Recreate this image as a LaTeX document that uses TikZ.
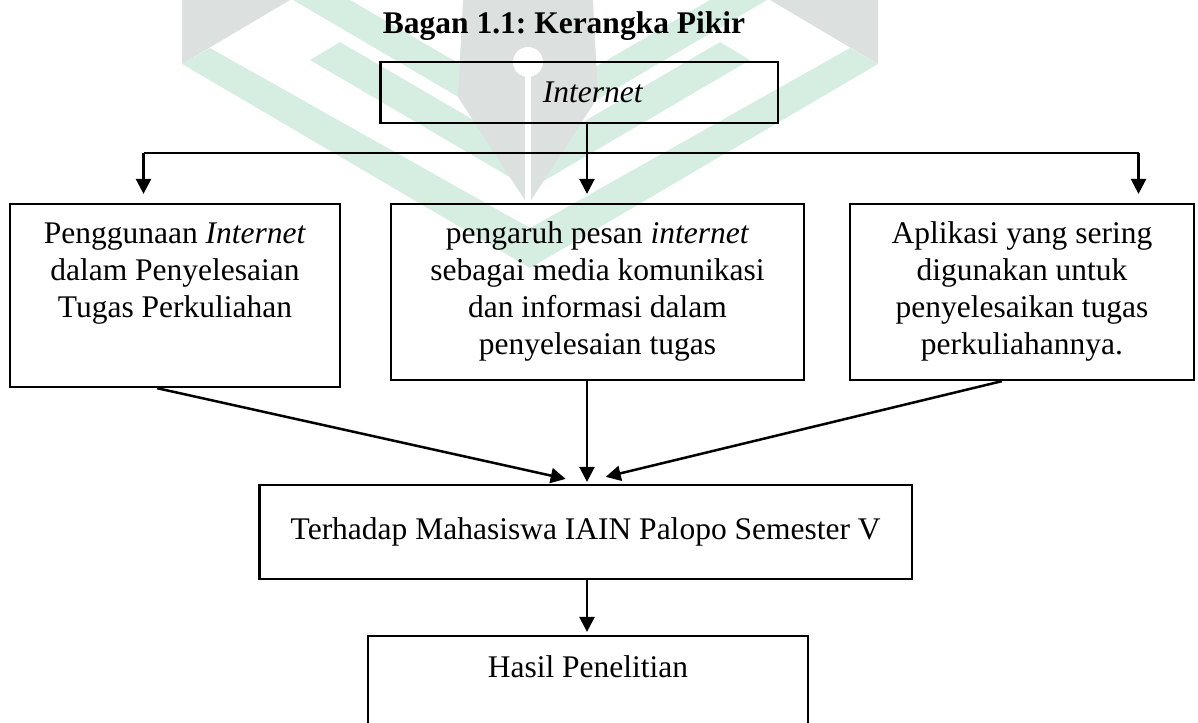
\documentclass[tikz,border=0pt]{standalone}
\usepackage{fontspec}
\setmainfont{Liberation Serif}
\usepackage{xcolor}
\usetikzlibrary{positioning,arrows.meta,calc}

\definecolor{wmgray}{RGB}{220,225,223}
\definecolor{wmgreen}{RGB}{214,238,225}

\begin{document}
\begin{tikzpicture}[x=0.4pt, y=-0.4pt, >={Triangle[length=6pt,width=6pt]},
    font=\fontsize{12.6}{14.8}\selectfont,
    box/.style={draw, line width=0.9pt, inner sep=0pt, align=center},
    link/.style={->, line width=1pt}]

\useasboundingbox (0,0) rectangle (1198,722);
\clip (0,0) rectangle (1198,722);

% ===========================
% Watermark (logo)
% ===========================
\begin{scope}
    \clip (182,0) rectangle (878,300);

    % gray corners
    \fill[wmgray] (182,0) -- (290,0) -- (182,64) -- cycle;
    \fill[wmgray] (770,0) -- (878,0) -- (878,64) -- cycle;

    % outer green V
    \fill[wmgreen] (182,64) -- (210,48) -- (530,228) -- (850,48) -- (878,64) -- (530,268) -- cycle;

    % inner green V from the top
    \fill[wmgreen] (293,0) -- (350,0) -- (530,105) -- (710,0) -- (767,0) -- (530,139) -- cycle;

    % small green chevron
    \fill[wmgreen] (310,60) -- (530,189) -- (750,60) -- (720,42) -- (530,153) -- (340,42) -- cycle;

    % pen nib
    \fill[wmgray] (463,0) -- (593,0) -- (598,97) -- (528,205) -- (458,97) -- cycle;
    \fill[white] (528,62) circle (6pt);
    \draw[white, line width=2.4pt] (528,62) -- (528,205);
\end{scope}

% ===========================
% Title and source
% ===========================
\node (judul) at (564,26) {\bfseries Bagan 1.1:\ Kerangka Pikir};

\node[box, minimum width=159pt, minimum height=24.4pt] (inet) at (579.3,92.5)
    {\hspace*{11pt}\textit{Internet}};

% ===========================
% Middle row
% ===========================
\node[box] (guna) at (175,295.5)
    {\parbox[c][73.2pt][t]{132.2pt}{\centering\rule{0pt}{15.8pt}Penggunaan \textit{Internet}\\
     dalam Penyelesaian\\ Tugas Perkuliahan}};

\node[box] (pesan) at (597.5,292)
    {\parbox[c][70.4pt][t]{165.2pt}{\centering\rule{0pt}{15.8pt}pengaruh pesan \textit{internet}\\
     sebagai media komunikasi\\ dan informasi dalam\\ penyelesaian tugas}};

\node[box] (apli) at (1022,292)
    {\parbox[c][70.4pt][t]{137.6pt}{\centering\rule{0pt}{15.8pt}Aplikasi yang sering\\
     digunakan untuk\\ penyelesaikan tugas\\ perkuliahannya.}};

% ===========================
% Bottom
% ===========================
\node[box, minimum width=261pt, minimum height=37.6pt] (hadap) at (585.7,532)
    {Terhadap Mahasiswa IAIN Palopo Semester V};

\node[box] (hasil) at (588,718)
    {\parbox[c][65.6pt][t]{176pt}{\centering\rule{0pt}{16.4pt}Hasil Penelitian}};

% ===========================
% Connectors
% ===========================
\coordinate (bar)  at (587,152.7);
\coordinate (barL) at (143.5,152.7);
\coordinate (barR) at (1138.5,152.7);

\draw[line width=0.9pt] (barL) -- (barR);
\draw[link, shorten >=3.6pt] (bar |- inet.south) -- (bar |- pesan.north);
\draw[link, shorten >=3.6pt] (barL) -- (barL |- guna.north);
\draw[link, shorten >=3.6pt] (barR) -- (barR |- apli.north);

\draw[link] ($(guna.south)+(-18,0)$) -- ($(hadap.north)+(-20,-5)$);
\draw[link, shorten >=0.8pt] (bar |- pesan.south) -- (bar |- hadap.north);
\draw[link] ($(apli.south)+(-20,0)$) -- ($(hadap.north)+(20,-7)$);

\draw[link, shorten >=1.2pt] (bar |- hadap.south) -- (bar |- hasil.north);

\end{tikzpicture}
\end{document}
